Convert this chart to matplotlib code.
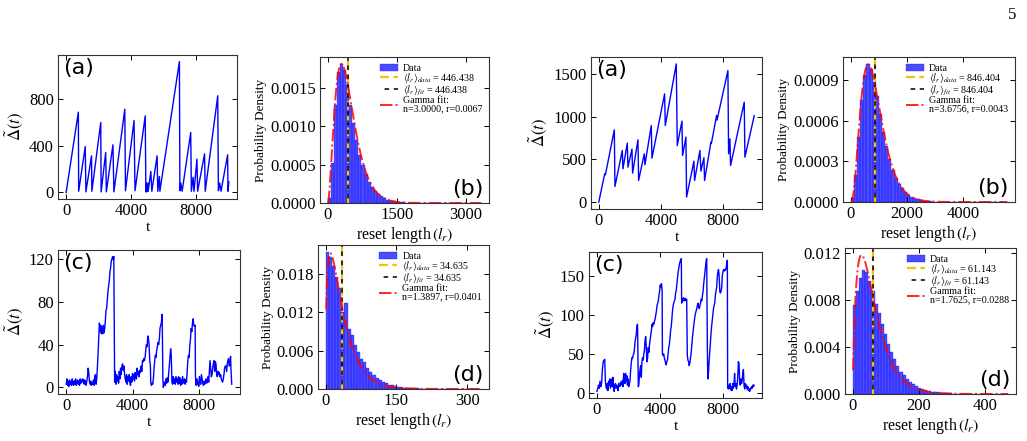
import math
import numpy as np
import matplotlib
matplotlib.use("Agg")
import matplotlib.pyplot as plt
from matplotlib.ticker import FormatStrFormatter

plt.rcParams['font.family'] = ['Liberation Serif', 'DejaVu Serif']
plt.rcParams['mathtext.fontset'] = 'stix'

# ---- left group: time series (a) ----
la_t = [0, 750, 770, 1175, 1215, 1560, 1580, 2126, 2150, 2430, 2470, 2875, 2936,
        3605, 3645, 4172, 4232, 4860, 4900, 4940, 4960, 5020, 5040, 5204, 5265,
        5589, 5630, 5730, 5760, 6960, 6990, 7047, 7128, 7655, 7695, 7800, 7857,
        8039, 8080, 8505, 8545, 9315, 9356, 9437, 9518, 9923, 9945, 9999]
la_v = [0, 689, 10, 394, 5, 314, 10, 600, 5, 343, 5, 409, 5,
        714, 15, 617, 15, 657, 5, 80, 5, 80, 10, 180, 10,
        314, 10, 137, 10, 1123, 15, 80, 10, 514, 10, 130, 10,
        286, 10, 331, 10, 829, 15, 80, 10, 323, 10, 90]

# ---- left group: time series (c) ----
lc_t = [0, 40, 80, 120, 160, 200, 240, 280, 320, 360, 400, 440, 480, 520, 560, 600,
        640, 680, 720, 760, 800, 840, 880, 920, 960, 1000, 1040, 1080, 1120, 1160,
        1200, 1240, 1280, 1320, 1360, 1400, 1440, 1480, 1520, 1560, 1600, 1640,
        1680, 1720, 1760, 1800, 1840, 1900, 1960, 2000, 2040, 2080, 2120, 2160,
        2200, 2240, 2280, 2320, 2360, 2400, 2440, 2480, 2520, 2560, 2600, 2640,
        2680, 2720, 2760, 2800, 2840, 2870, 2900, 2920, 2960, 3000, 3040, 3080,
        3120, 3160, 3200, 3240, 3280, 3320, 3360, 3400, 3440, 3480, 3520, 3560,
        3600, 3640, 3680, 3720, 3760, 3800, 3840, 3880, 3920, 3960, 4000, 4040,
        4080, 4120, 4160, 4200, 4240, 4280, 4320, 4360, 4400, 4440, 4480, 4520,
        4560, 4600, 4640, 4680, 4720, 4760, 4800, 4840, 4880, 4920, 4960, 5000,
        5040, 5080, 5100, 5140, 5180, 5220, 5260, 5300, 5340, 5380, 5420, 5460,
        5500, 5540, 5580, 5620, 5660, 5700, 5740, 5780, 5800, 5830, 5860, 5900,
        5940, 5980, 6020, 6060, 6100, 6140, 6180, 6220, 6260, 6300, 6340, 6380,
        6420, 6460, 6500, 6540, 6580, 6620, 6660, 6700, 6740, 6780, 6820, 6860,
        6900, 6940, 6980, 7020, 7060, 7100, 7140, 7180, 7220, 7260, 7300, 7340,
        7380, 7420, 7460, 7500, 7540, 7580, 7620, 7660, 7700, 7740, 7780, 7800,
        7840, 7880, 7920, 7960, 8000, 8040, 8080, 8120, 8160, 8200, 8240, 8280,
        8320, 8360, 8400, 8440, 8480, 8520, 8560, 8600, 8640, 8680, 8720, 8760,
        8800, 8840, 8880, 8920, 8960, 9000, 9040, 9080, 9120, 9160, 9200, 9240,
        9280, 9320, 9360, 9400, 9440, 9480, 9520, 9560, 9600, 9640, 9680, 9720,
        9760, 9800, 9840, 9880, 9920, 9950, 9990]
lc_v = [3, 8, 2, 6, 1, 7, 3, 5, 2, 8, 4, 2, 6, 3, 8, 2,
        5, 7, 3, 6, 2, 8, 4, 7, 5, 8, 6, 3, 7, 5,
        2, 6, 10, 18, 14, 5, 3, 6, 2, 4, 3, 7,
        2, 10, 12, 3, 8, 25, 45, 60, 52, 58, 50, 56,
        50, 58, 51, 55, 62, 72, 74, 82, 90, 95, 100, 108,
        112, 118, 120, 122, 119, 122, 60, 5, 15, 3, 12, 6,
        10, 4, 15, 8, 18, 12, 20, 22, 16, 20, 12, 8,
        5, 12, 3, 10, 6, 12, 4, 2, 10, 5, 13, 8,
        12, 6, 14, 10, 8, 18, 12, 15, 10, 16, 14, 20,
        15, 25, 24, 27, 25, 28, 35, 40, 38, 48, 46, 40,
        25, 20, 5, 2, 4, 3, 8, 18, 25, 30, 28, 35,
        38, 42, 40, 45, 55, 58, 60, 68, 55, 10, 0, 3,
        5, 2, 8, 4, 9, 5, 12, 20, 28, 36, 30, 5,
        3, 10, 4, 8, 3, 10, 5, 8, 3, 10, 4, 9,
        2, 7, 3, 10, 5, 4, 8, 3, 7, 5, 15, 25,
        30, 28, 40, 45, 55, 52, 60, 64, 58, 57, 58, 10,
        2, 8, 3, 5, 1, 10, 5, 3, 12, 8, 4, 2,
        6, 3, 5, 8, 4, 6, 10, 5, 15, 25, 18, 10,
        12, 18, 22, 25, 15, 24, 22, 12, 10, 15, 12, 14,
        10, 12, 8, 6, 5, 8, 12, 18, 20, 20, 15, 22,
        25, 27, 20, 22, 29, 15, 3]

# ---- right group: time series (a) ----
ra_t = [0, 380, 420, 470, 998, 1040, 1512, 1554, 1833, 1875, 2132, 2175, 2517,
        2560, 2924, 2967, 3374, 3417, 4230, 4273, 4980, 5044, 5344, 5386, 5600,
        5643, 6114, 6157, 6499, 6563, 6756, 6799, 7206, 7240, 7570, 7600, 8298,
        8341, 8427, 8469, 9347, 9390, 9989]
ra_v = [0, 330, 320, 360, 845, 183, 604, 390, 690, 409, 620, 339, 729,
        253, 565, 436, 896, 514, 1266, 896, 1617, 662, 947, 545, 760,
        58, 479, 253, 604, 362, 518, 253, 701, 690, 1013, 960, 1539,
        565, 740, 429, 1169, 526, 1010]

# ---- right group: time series (c) ----
rc_t = [0, 50, 100, 150, 200, 250, 300, 350, 400, 450, 500, 540, 580, 620, 660,
        700, 740, 780, 820, 860, 900, 940, 980, 1020, 1060, 1100, 1140, 1180,
        1220, 1260, 1300, 1340, 1380, 1420, 1460, 1500, 1540, 1580, 1620, 1660,
        1700, 1740, 1780, 1820, 1860, 1900, 1940, 1980, 2020, 2060, 2100, 2140,
        2180, 2220, 2260, 2300, 2340, 2380, 2420, 2460, 2500, 2540, 2580, 2600,
        2630, 2660, 2700, 2740, 2780, 2820, 2860, 2900, 2940, 2980, 3020, 3060,
        3100, 3140, 3180, 3220, 3260, 3300, 3340, 3380, 3420, 3460, 3500, 3540,
        3580, 3620, 3660, 3700, 3740, 3780, 3820, 3860, 3900, 3940, 3980, 4020,
        4060, 4100, 4140, 4160, 4200, 4240, 4280, 4320, 4360, 4400, 4440, 4480,
        4520, 4560, 4600, 4640, 4680, 4720, 4760, 4800, 4840, 4880, 4920, 4960,
        5000, 5040, 5080, 5120, 5160, 5200, 5240, 5280, 5320, 5360, 5380, 5420,
        5460, 5500, 5540, 5580, 5620, 5660, 5700, 5740, 5780, 5820, 5860, 5900,
        5940, 5980, 6020, 6060, 6100, 6140, 6180, 6220, 6260, 6300, 6340, 6380,
        6420, 6460, 6500, 6540, 6580, 6620, 6660, 6700, 6740, 6780, 6820, 6860,
        6900, 6940, 6970, 7010, 7040, 7080, 7120, 7160, 7200, 7240, 7280, 7320,
        7360, 7400, 7440, 7480, 7520, 7560, 7600, 7640, 7680, 7720, 7760, 7800,
        7840, 7880, 7920, 7960, 8000, 8040, 8080, 8120, 8160, 8200, 8240, 8280,
        8300, 8340, 8380, 8420, 8460, 8500, 8540, 8580, 8620, 8660, 8700, 8740,
        8780, 8820, 8860, 8900, 8940, 8980, 9020, 9060, 9100, 9140, 9180, 9220,
        9260, 9300, 9340, 9380, 9420, 9460, 9500, 9540, 9580, 9620, 9660, 9700,
        9740, 9780, 9820, 9860, 9900, 9940, 9980]
rc_v = [2, 5, 10, 6, 15, 8, 12, 30, 40, 42, 43, 15, 8, 5, 12,
        3, 15, 10, 18, 6, 12, 18, 8, 20, 5, 2, 10, 12,
        6, 10, 8, 3, 12, 10, 8, 14, 10, 12, 16, 8,
        25, 20, 12, 25, 15, 22, 10, 18, 8, 12, 15, 28,
        38, 45, 44, 48, 50, 55, 65, 70, 75, 85, 88, 60,
        8, 10, 22, 30, 35, 20, 40, 45, 42, 50, 55, 68,
        72, 55, 40, 45, 58, 52, 62, 68, 75, 80, 88, 85,
        90, 88, 92, 95, 100, 105, 112, 115, 118, 125, 130, 138,
        135, 140, 132, 50, 48, 50, 45, 42, 38, 36, 40, 42,
        50, 58, 62, 70, 80, 85, 95, 105, 112, 115, 118, 120,
        128, 132, 140, 148, 155, 160, 165, 168, 170, 172, 115, 120,
        118, 122, 118, 120, 121, 118, 120, 48, 42, 40, 35, 38,
        45, 50, 60, 70, 78, 85, 92, 98, 102, 105, 108, 112,
        115, 110, 108, 112, 115, 120, 118, 125, 130, 140, 148, 155,
        162, 170, 172, 60, 18, 25, 40, 52, 65, 75, 85, 92,
        100, 108, 112, 115, 125, 130, 135, 148, 155, 158, 150, 130,
        128, 130, 135, 150, 155, 158, 156, 158, 157, 160, 165, 170,
        8, 5, 10, 6, 12, 4, 8, 3, 12, 6, 10, 25,
        8, 12, 5, 10, 20, 40, 38, 15, 10, 18, 12, 15,
        25, 30, 10, 5, 12, 8, 10, 5, 8, 3, 5, 2,
        6, 5, 8, 6, 10, 8, 10]

# ---- histograms: probability density per bin (50 bins from 0 to max) ----
lb_max = 3330
lb_dens = [0.00006, 0.00052, 0.00128, 0.00171, 0.00181, 0.00174, 0.00154, 0.00128,
           0.00104, 0.00082, 0.00063, 0.00049, 0.00038, 0.00028, 0.00021, 0.00016,
           0.00012, 0.000085, 0.00006, 0.000044, 0.000032, 0.000023, 0.000016,
           0.000011, 0.000008, 0.0000055, 0.000004, 0.000003, 0.000002, 0.0000015,
           0.000001, 0.0000008, 0.0000005, 0.0000004, 0.0000003, 0.0000002,
           0.0000002, 0.0000001, 0.0000001, 0, 0.0000001, 0, 0, 0, 0, 0, 0, 0, 0,
           0.0000001]
rb_max = 5580
rb_dens = [0.00003, 0.00020, 0.00048, 0.00075, 0.00094, 0.00102, 0.00098, 0.00089,
           0.00078, 0.00065, 0.00052, 0.00041, 0.00032, 0.00024, 0.00018, 0.000135,
           0.0001, 0.000072, 0.000052, 0.000037, 0.000027, 0.000019, 0.000013,
           0.000009, 0.0000065, 0.0000045, 0.000003, 0.000002, 0.0000015, 0.000001,
           0.0000008, 0.0000006, 0.0000004, 0.0000003, 0.0000002, 0.0000002,
           0.0000001, 0.0000001, 0.0000001, 0, 0, 0, 0.0000001, 0, 0, 0, 0, 0, 0,
           0.0000001]
ld_max = 330
ld_dens = [0.0214, 0.0206, 0.0192, 0.0174, 0.0158, 0.0120, 0.0134, 0.0094, 0.0085,
           0.0068, 0.0058, 0.0047, 0.0042, 0.0033, 0.0027, 0.0022, 0.0017, 0.0014,
           0.0011, 0.0009, 0.0007, 0.00055, 0.00045, 0.00035, 0.00028, 0.00022,
           0.00017, 0.00013, 0.0001, 0.00008, 0.00006, 0.00005, 0.00004, 0.00003,
           0.00002, 0.000015, 0.00001, 0.00001, 0.000008, 0.000005, 0.000004,
           0.000003, 0.000002, 0.000002, 0.000001, 0.000001, 0.000001, 0, 0,
           0.000001]
rd_max = 470
rd_dens = [0.0076, 0.0088, 0.0099, 0.0106, 0.0104, 0.0096, 0.0088, 0.0077, 0.0069,
           0.0060, 0.0051, 0.0043, 0.0036, 0.0030, 0.0024, 0.0019, 0.0016, 0.0013,
           0.00105, 0.00085, 0.00068, 0.00054, 0.00043, 0.00034, 0.00027, 0.00021,
           0.00016, 0.00013, 0.0001, 0.00008, 0.00006, 0.000045, 0.000035,
           0.000027, 0.00002, 0.000015, 0.000011, 0.000008, 0.000006, 0.000004,
           0.000003, 0.000002, 0.000002, 0.000001, 0.000001, 0.000001, 0, 0, 0,
           0.000001]

# means and gamma fit parameters from the legends
lb_mean, lb_n, lb_r = 446.438, 3.0000, 0.0067
rb_mean, rb_n, rb_r = 846.404, 3.6756, 0.0043
ld_mean, ld_n, ld_r = 34.635, 1.3897, 0.0401
rd_mean, rd_n, rd_r = 61.143, 1.7625, 0.0288

W, H = 1027, 441
fig = plt.figure(figsize=(W / 100, H / 100), dpi=100)


def px_axes(x0, x1, y0, y1):
    return fig.add_axes([x0 / W, 1 - y1 / H, (x1 - x0) / W, (y1 - y0) / H])


def style(ax):
    ax.tick_params(direction='in', top=True, right=True, labelsize=12,
                   length=3.5, width=0.7, pad=3)
    for s in ax.spines.values():
        s.set_linewidth(0.8)
        s.set_color('#333333')


def series_panel(ax, t, v, label, yticks):
    style(ax)
    ax.plot(t, v, color='blue', lw=1.0)
    ax.set_xticks([0, 4000, 8000])
    ax.set_yticks(yticks)
    ax.set_xlabel('t', fontsize=11, labelpad=1)
    ax.set_ylabel(r'$\tilde{\Delta}(t)$', fontsize=12, labelpad=3)
    ax.text(0.03, 0.98, label, transform=ax.transAxes, ha='left', va='top',
            fontsize=16, family='DejaVu Sans')


def hist_panel(ax, dens, lr_max, mean, n, r, label, xticks, yticks, fmt):
    style(ax)
    edges = np.linspace(0, lr_max, len(dens) + 1)
    bars = ax.bar(edges[:-1], dens, width=np.diff(edges), align='edge',
                  color='blue', alpha=0.7, edgecolor='blue', lw=0.3)
    l1 = ax.axvline(mean, color='#f5c400', ls=(0, (4, 2)), lw=1.6)
    l2 = ax.axvline(mean, color='black', ls=(3, (3, 3)), lw=1.1)
    x = np.linspace(1, lr_max, 600)
    pdf = r ** n * x ** (n - 1) * np.exp(-r * x) / math.gamma(n)
    l3, = ax.plot(x, pdf, color='red', ls='-.', lw=1.4, alpha=0.85)
    leg = ax.legend([bars, l1, l2, l3],
                    ['Data',
                     r'$\langle l_r\rangle_{data}$ = %.3f' % mean,
                     r'$\langle l_r\rangle_{fit}$ = %.3f' % mean,
                     'Gamma fit:\nn=%.4f, r=%.4f' % (n, r)],
                    loc='upper right', fontsize=7.2, frameon=False,
                    handlelength=1.8, labelspacing=-0.15, borderaxespad=0.3,
                    handletextpad=0.5)
    for txt in leg.get_texts():
        txt.set_linespacing(0.95)
    ax.set_xticks(xticks)
    ax.set_yticks(yticks)
    ax.yaxis.set_major_formatter(FormatStrFormatter(fmt))
    ax.set_xlabel(r'reset length$\,(l_r)$', fontsize=11.5, labelpad=1)
    ax.set_ylabel('Probability Density', fontsize=9.5, labelpad=2)
    ax.text(0.965, 0.03, label, transform=ax.transAxes, ha='right', va='bottom',
            fontsize=16, family='DejaVu Sans')


ax = px_axes(58, 237, 55, 199)
series_panel(ax, la_t, la_v, '(a)', [0, 400, 800])
ax = px_axes(320, 489, 57, 203)
hist_panel(ax, lb_dens, lb_max, lb_mean, lb_n, lb_r, '(b)', [0, 1500, 3000],
           [0, 0.0005, 0.0010, 0.0015], '%.4f')
ax = px_axes(58, 240, 250, 394)
series_panel(ax, lc_t, lc_v, '(c)', [0, 40, 80, 120])
ax = px_axes(318, 489, 245, 389)
hist_panel(ax, ld_dens, ld_max, ld_mean, ld_n, ld_r, '(d)', [0, 150, 300],
           [0, 0.006, 0.012, 0.018], '%.3f')

ax = px_axes(591, 762, 57, 209)
series_panel(ax, ra_t, ra_v, '(a)', [0, 500, 1000, 1500])
ax = px_axes(843, 1015, 57, 202)
hist_panel(ax, rb_dens, rb_max, rb_mean, rb_n, rb_r, '(b)', [0, 2000, 4000],
           [0, 0.0003, 0.0006, 0.0009], '%.4f')
ax = px_axes(589, 762, 252, 398)
series_panel(ax, rc_t, rc_v, '(c)', [0, 50, 100, 150])
ax = px_axes(845, 1016, 248, 394)
hist_panel(ax, rd_dens, rd_max, rd_mean, rd_n, rd_r, '(d)', [0, 200, 400],
           [0, 0.004, 0.008, 0.012], '%.3f')

fig.text(1012 / W, 1 - 15 / H, '5', fontsize=12, ha='center', va='center')

fig.savefig('out.png', dpi=100)
